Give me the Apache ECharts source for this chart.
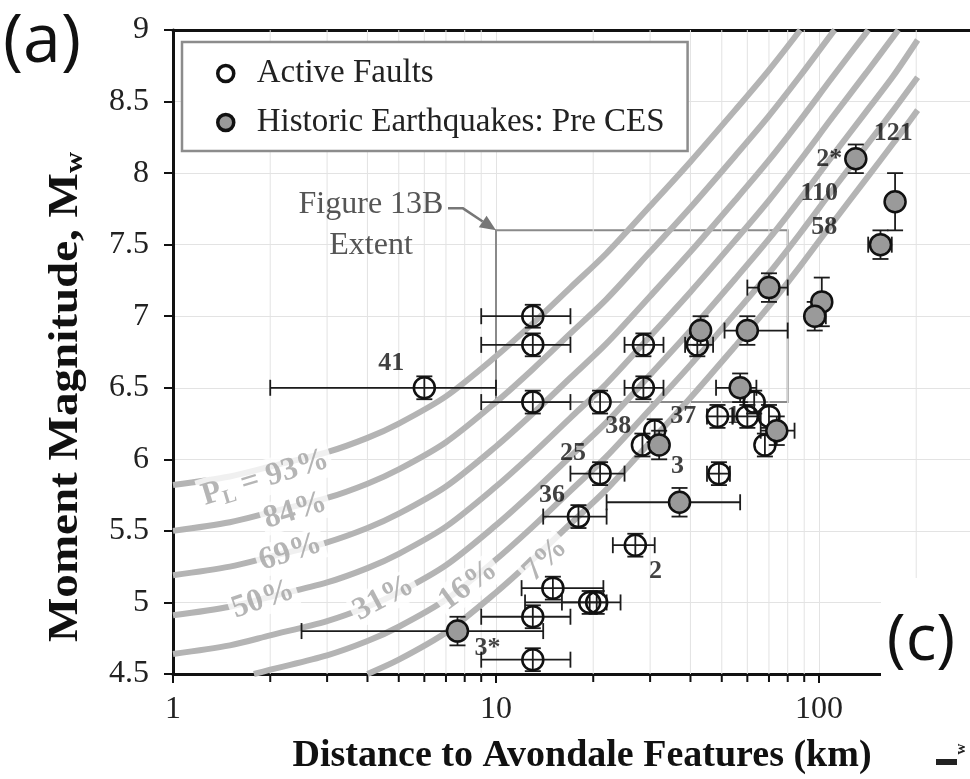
<!DOCTYPE html>
<html>
<head>
<meta charset="utf-8">
<title>Moment magnitude vs distance to Avondale features</title>
<script src="https://cdn.jsdelivr.net/npm/echarts@6/dist/echarts.min.js"></script>
<style>
  html, body { margin: 0; padding: 0; background: #fff; }
  #chart { width: 970px; height: 779px; }
</style>
</head>
<body>
<div id="chart"></div>
<script>
const SERIF = "'Liberation Serif', 'Times New Roman', Times, serif";
const SANS = "'Open Sans', 'Liberation Sans', Arial, sans-serif";

// ---- axes ----
const distMin = 1, distMax = 1000;
const magMin = 4.5, magMax = 9, magStep = 0.5;
const minorDistTicks = [2, 3, 4, 5, 6, 7, 8, 9, 20, 30, 40, 50, 60, 70, 80, 90, 200, 300, 400, 500, 600, 700, 800, 900];

// ---- probability-of-liquefaction contours: [distance (km), Mw] ----
const curvePL93 = [[1, 5.82], [1.5, 5.88], [2, 5.95], [3, 6.05], [4, 6.15], [5, 6.25], [7, 6.44], [10, 6.72], [13, 6.95], [17, 7.20], [22, 7.44], [30, 7.77], [40, 8.08], [55, 8.44], [70, 8.72], [87.5, 9.0]];
const curvePL84 = [[1, 5.50], [1.5, 5.56], [2, 5.63], [3, 5.73], [4, 5.83], [5, 5.93], [7, 6.12], [10, 6.40], [13, 6.63], [17, 6.88], [22, 7.12], [30, 7.45], [40, 7.76], [55, 8.12], [70, 8.40], [87.5, 8.68], [110, 8.98], [112, 9.0]];
const curvePL69 = [[1, 5.19], [1.5, 5.25], [2, 5.32], [3, 5.42], [4, 5.52], [5, 5.62], [7, 5.81], [10, 6.09], [13, 6.32], [17, 6.57], [22, 6.81], [30, 7.14], [40, 7.45], [55, 7.81], [70, 8.09], [87.5, 8.37], [110, 8.67], [140, 8.98], [142, 9.0]];
const curvePL50 = [[1, 4.91], [1.5, 4.97], [2, 5.04], [3, 5.14], [4, 5.24], [5, 5.34], [7, 5.53], [10, 5.81], [13, 6.04], [17, 6.29], [22, 6.53], [30, 6.86], [40, 7.17], [55, 7.53], [70, 7.81], [87.5, 8.09], [110, 8.39], [140, 8.70], [176, 9.0]];
const curvePL31 = [[1, 4.64], [1.5, 4.70], [2, 4.77], [3, 4.87], [4, 4.97], [5, 5.07], [7, 5.26], [10, 5.54], [13, 5.77], [17, 6.02], [22, 6.26], [30, 6.59], [40, 6.90], [55, 7.26], [70, 7.54], [87.5, 7.82], [110, 8.12], [140, 8.43], [170, 8.68], [202, 8.93]];
const curvePL16 = [[1.78, 4.5], [2, 4.53], [3, 4.63], [4, 4.73], [5, 4.83], [7, 5.02], [10, 5.30], [13, 5.53], [17, 5.78], [22, 6.02], [30, 6.35], [40, 6.66], [55, 7.02], [70, 7.30], [87.5, 7.58], [110, 7.88], [140, 8.19], [170, 8.44], [202, 8.67]];
const curvePL7  = [[4, 4.5], [5, 4.60], [7, 4.79], [10, 5.07], [13, 5.30], [17, 5.55], [22, 5.79], [30, 6.12], [40, 6.43], [55, 6.79], [70, 7.07], [87.5, 7.35], [110, 7.65], [140, 7.96], [170, 8.21], [202, 8.44]];
const contours = [curvePL93, curvePL84, curvePL69, curvePL50, curvePL31, curvePL16, curvePL7];
const contourText = ['{p|P}{s|L}{p| = 93%}', '84%', '69%', '50%', '31%', '16%', '7%'];

// ---- active faults ----
const faultDist   = [13, 13, 6, 13, 21, 28.6, 28.6, 42, 63, 48.5, 60, 70, 68, 49, 31, 28.4, 21, 18, 27, 15, 19.5, 20.5, 13, 13];
const faultMag    = [7.0, 6.8, 6.5, 6.4, 6.4, 6.8, 6.5, 6.8, 6.4, 6.3, 6.3, 6.3, 6.1, 5.9, 6.2, 6.1, 5.9, 5.6, 5.4, 5.1, 5.0, 5.0, 4.9, 4.6];
const faultDistLo = [9, 9, 2, 9, null, 25, 25, 38.5, null, 45, 54, null, null, 45, null, null, 17, 14, 23, 12, 12.3, 16, 9, 9];
const faultDistHi = [17, 17, 10, 17, null, 33, 33, 47, null, 54, 66, null, null, 53, null, null, 25, 22, 31, 21.5, 24.3, 22, 17, 17];
const faultMagErr = 0.08;

// ---- historic earthquakes (pre CES) ----
const quakeDist   = [130, 172, 155, 70, 102, 97, 60, 43, 57, 74, 32, 37, 7.6];
const quakeMag    = [8.1, 7.8, 7.5, 7.2, 7.1, 7.0, 6.9, 6.9, 6.5, 6.2, 6.1, 5.7, 4.8];
const quakeDistLo = [null, null, 142, 60, null, 92, 51, null, 48, 66, null, 22, 2.5];
const quakeDistHi = [null, null, 168, 80, null, 105, 80, null, 64, 84, null, 57, 14];
const quakeMagErr = [0.1, 0.2, 0.1, 0.1, 0.17, 0.1, 0.1, 0.1, 0.1, 0.1, 0.1, 0.1, 0.1];

// ---- event labels: [distance, Mw, text] ----
const eventLabels = [
  [4.74, 6.67, '41'], [169.8, 8.28, '121'], [107.6, 8.10, '2*'], [100.2, 7.86, '110'],
  [103.8, 7.62, '58'], [23.9, 6.23, '38'], [38.0, 6.30, '37'], [54.3, 6.30, '1'],
  [17.3, 6.04, '25'], [36.5, 5.95, '3'], [14.9, 5.75, '36'], [31.2, 5.22, '2'], [9.42, 4.68, '3*']
];

// ---- Figure 13B extent box ----
const extentDist = [10, 80];
const extentMag = [6.4, 7.6];

// label anchors and angles for the contour captions
const contourLabelAt = [[1.93, 5.87, 17], [2.39, 5.64, 17], [2.31, 5.35, 18], [1.9, 5.02, 19], [4.49, 5.03, 28], [8.2, 5.12, 36], [14.2, 5.3, 44]];

const chart = echarts.init(document.getElementById('chart'));

const curveSeries = contours.map((c, i) => ({
  type: 'line', name: 'PL' + i, data: c, smooth: 0.3, symbol: 'none', silent: true,
  lineStyle: { color: '#b4b4b4', width: 6 }, z: 2, legendHoverLink: false
}));

const curveLabelSeries = {
  type: 'scatter', silent: true, symbolSize: 0, z: 3,
  data: contourLabelAt.map((p, i) => ({
    value: [p[0], p[1]],
    label: { show: true, position: 'inside', rotate: p[2], formatter: contourText[i] }
  })),
  label: {
    color: '#a2a2a2', fontFamily: SERIF, fontSize: 32, fontWeight: 'bold',
    backgroundColor: '#fff', padding: [0, 3],
    rich: {
      p: { color: '#a2a2a2', fontFamily: SERIF, fontSize: 32, fontWeight: 'bold' },
      s: { color: '#a2a2a2', fontFamily: SERIF, fontSize: 20, fontWeight: 'bold', padding: [16, 0, 0, 0] }
    }
  }
};

function errorItems(dist, mag, lo, hi, err) {
  return dist.map((d, i) => [d, mag[i], lo[i] || 0, hi[i] || 0, Array.isArray(err) ? err[i] : err]);
}

function renderError(params, api) {
  const x = api.value(0), y = api.value(1), lo = api.value(2), hi = api.value(3), e = api.value(4);
  const c = api.coord([x, y]);
  const cap = 8;
  const segs = [];
  if (e > 0) {
    const t = api.coord([x, y + e]), b = api.coord([x, y - e]);
    segs.push([c[0], t[1], c[0], b[1]], [c[0] - cap, t[1], c[0] + cap, t[1]], [c[0] - cap, b[1], c[0] + cap, b[1]]);
  }
  if (lo > 0 && hi > 0) {
    const l = api.coord([lo, y]), r = api.coord([hi, y]);
    segs.push([l[0], c[1], r[0], c[1]], [l[0], c[1] - cap, l[0], c[1] + cap], [r[0], c[1] - cap, r[0], c[1] + cap]);
  }
  return {
    type: 'group',
    children: segs.map(s => ({ type: 'line', shape: { x1: s[0], y1: s[1], x2: s[2], y2: s[3] }, style: { stroke: '#1c1c1c', lineWidth: 1.8 } }))
  };
}

function renderMinor(params, api) {
  const v = api.value(0);
  const b = api.coord([v, magMin]), t = api.coord([v, magMax]);
  return {
    type: 'group',
    children: [
      { type: 'line', shape: { x1: b[0], y1: b[1], x2: t[0], y2: t[1] }, style: { stroke: '#e3e3e3', lineWidth: 1 } },
      { type: 'line', shape: { x1: b[0], y1: b[1], x2: b[0], y2: b[1] + 8 }, style: { stroke: '#111', lineWidth: 2 } }
    ]
  };
}

const option = {
  animation: false,
  backgroundColor: '#fff',
  // plot area runs past the right edge of the page (three decades wide)
  grid: { left: 173, top: 30, width: 969, height: 644, containLabel: false, outerBoundsMode: 'none' },
  xAxis: [{
    type: 'log', logBase: 10, min: distMin, max: distMax,
    axisLine: { show: true, onZero: false, lineStyle: { color: '#111', width: 3 } },
    axisTick: { show: true, length: 9, lineStyle: { color: '#111', width: 2 } },
    axisLabel: { color: '#222', fontFamily: SERIF, fontSize: 32, margin: 20, hideOverlap: false },
    splitLine: { show: true, lineStyle: { color: '#e3e3e3', width: 1 } }
  }, {
    type: 'log', logBase: 10, min: distMin, max: distMax, position: 'top',
    axisLine: { show: true, lineStyle: { color: '#111', width: 3 } },
    axisTick: { show: false }, axisLabel: { show: false }, splitLine: { show: false }
  }],
  yAxis: {
    type: 'value', min: magMin, max: magMax, interval: magStep,
    axisLine: { show: true, lineStyle: { color: '#111', width: 3 } },
    axisTick: { show: true, length: 9, lineStyle: { color: '#111', width: 2 } },
    axisLabel: { color: '#222', fontFamily: SERIF, fontSize: 32, margin: 24 },
    splitLine: { show: true, lineStyle: { color: '#e3e3e3', width: 1 } }
  },
  legend: {
    orient: 'vertical', left: 182, top: 42,
    padding: [15, 23, 12, 34], itemGap: 16, itemWidth: 16, itemHeight: 16,
    backgroundColor: '#fff', borderColor: '#8c8c8c', borderWidth: 2.5,
    textStyle: { fontFamily: SERIF, fontSize: 33, color: '#222', padding: [0, 0, 0, 18] },
    data: [
      { name: 'Active Faults', icon: 'circle', itemStyle: { color: '#fff', borderColor: '#111', borderWidth: 3.5 } },
      { name: 'Historic Earthquakes: Pre CES', icon: 'circle', itemStyle: { color: '#9a9a9a', borderColor: '#111', borderWidth: 3.5 } }
    ],
    z: 20
  },
  series: [
    { type: 'custom', name: 'minor grid', silent: true, z: 1, clip: false,
      data: minorDistTicks.map(v => [v, magMin]), encode: { x: 0, y: 1 }, renderItem: renderMinor },
    ...curveSeries,
    curveLabelSeries,
    { type: 'line', name: 'extent', data: [], silent: true, z: 3,
      markArea: { silent: true, itemStyle: { color: 'rgba(0,0,0,0)', borderColor: '#8a8a8a', borderWidth: 2 },
        data: [[{ coord: [extentDist[0], extentMag[1]] }, { coord: [extentDist[1], extentMag[0]] }]] } },
    { type: 'custom', name: 'fault errors', silent: true, z: 4, encode: { x: 0, y: 1 },
      data: errorItems(faultDist, faultMag, faultDistLo, faultDistHi, faultMagErr), renderItem: renderError },
    { type: 'custom', name: 'quake errors', silent: true, z: 4, encode: { x: 0, y: 1 },
      data: errorItems(quakeDist, quakeMag, quakeDistLo, quakeDistHi, quakeMagErr), renderItem: renderError },
    { type: 'scatter', name: 'Active Faults', z: 5, symbol: 'circle', symbolSize: 21,
      data: faultDist.map((d, i) => [d, faultMag[i]]),
      itemStyle: { color: 'rgba(255,255,255,0)', borderColor: '#111', borderWidth: 2.5, opacity: 1 } },
    { type: 'scatter', name: 'Historic Earthquakes: Pre CES', z: 6, symbol: 'circle', symbolSize: 21,
      data: quakeDist.map((d, i) => [d, quakeMag[i]]),
      itemStyle: { color: '#9a9a9a', borderColor: '#111', borderWidth: 2.5, opacity: 1 } },
    { type: 'scatter', name: 'event labels', silent: true, symbolSize: 0, z: 7,
      data: eventLabels.map(l => ({ value: [l[0], l[1]], label: { formatter: l[2] } })),
      label: { show: true, position: 'inside', color: '#111', fontFamily: SERIF, fontSize: 26, fontWeight: 'bold' } }
  ]
};

chart.setOption(option);

// annotation overlays positioned from the axis scales
const corner = chart.convertToPixel({ gridIndex: 0 }, [extentDist[0], extentMag[1]]);
const ax = corner[0], ay = corner[1];
const headLen = 16, headW = 7;
const tail = [ax - 33, ay - 22];
const ang = Math.atan2(ay - tail[1], ax - tail[0]);
const hx = ax - headLen * Math.cos(ang), hy = ay - headLen * Math.sin(ang);

chart.setOption({
  graphic: [
    { type: 'text', x: 42, y: 43, z: 50,
      style: { text: '(a)', align: 'center', verticalAlign: 'middle', fontFamily: SANS, fontSize: 68, fill: '#111' } },
    { type: 'text', x: 66, y: 397, rotation: Math.PI / 2, scaleX: 1.12, z: 50,
      style: {
        text: '{b|Moment Magnitude, M}{w|w}', align: 'center', verticalAlign: 'middle',
        rich: {
          b: { fontFamily: SERIF, fontSize: 42, fontWeight: 'bold', fill: '#111' },
          w: { fontFamily: SERIF, fontSize: 26, fontWeight: 'bold', fill: '#111', padding: [18, 0, 0, 0] }
        }
      } },
    { type: 'text', x: 582, y: 756, z: 50,
      style: { text: 'Distance to Avondale Features (km)', align: 'center', verticalAlign: 'middle',
        fontFamily: SERIF, fontSize: 38, fontWeight: 'bold', fill: '#111' } },
    { type: 'text', x: 371, y: 205, z: 50,
      style: { text: 'Figure 13B', align: 'center', verticalAlign: 'middle', fontFamily: SERIF, fontSize: 32, fill: '#555' } },
    { type: 'text', x: 371, y: 246, z: 50,
      style: { text: 'Extent', align: 'center', verticalAlign: 'middle', fontFamily: SERIF, fontSize: 32, fill: '#555' } },
    { type: 'polyline', z: 50, silent: true,
      shape: { points: [[ax - 48, tail[1]], tail, [hx, hy]] },
      style: { stroke: '#777', lineWidth: 2.5, fill: null } },
    { type: 'polygon', z: 50, silent: true,
      shape: { points: [[ax, ay],
        [hx + headW * Math.sin(ang), hy - headW * Math.cos(ang)],
        [hx - headW * Math.sin(ang), hy + headW * Math.cos(ang)]] },
      style: { fill: '#777' } },
    { type: 'rect', z: 60, silent: true,
      shape: { x: 881, y: 578, width: 89, height: 201 }, style: { fill: '#fff' } },
    { type: 'text', x: 921, y: 642, z: 61,
      style: { text: '(c)', align: 'center', verticalAlign: 'middle', fontFamily: SANS, fontSize: 64, fill: '#111' } },
    // edge of the neighbouring panel's rotated axis title
    { type: 'rect', z: 61, silent: true,
      shape: { x: 936, y: 759, width: 21, height: 6 }, style: { fill: '#222' } },
    { type: 'text', x: 961, y: 749, rotation: Math.PI / 2, z: 61,
      style: { text: 'w', align: 'center', verticalAlign: 'middle', fontFamily: SERIF, fontSize: 15, fontWeight: 'bold', fill: '#222' } }
  ]
});
</script>
</body>
</html>
